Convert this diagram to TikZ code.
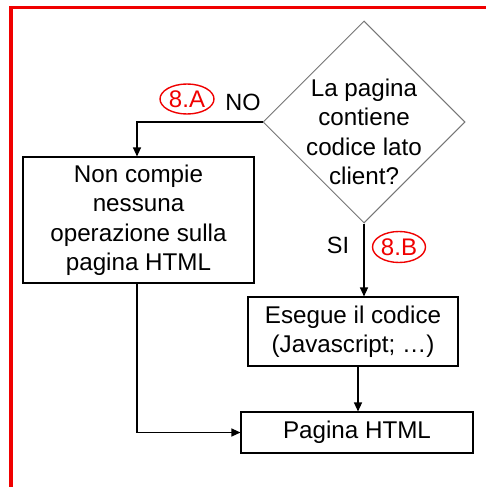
\documentclass[tikz,border=0pt]{standalone}
\usepackage{fontspec}
\setmainfont{Liberation Sans}
\usetikzlibrary{shapes.geometric,arrows.meta}

\definecolor{framered}{RGB}{240,0,0}
\definecolor{diagray}{RGB}{118,118,118}

\tikzset{
  txt/.style={font=\fontsize{24.2}{29.5}\selectfont, align=center, inner sep=0pt},
  box/.style={txt, draw=black, line width=1.1pt, rectangle},
  conn/.style={draw=black, line width=1.2pt, -{Triangle[length=9pt,width=8pt]}},
  tag/.style={draw=framered, line width=1.4pt, ellipse, inner sep=0pt, text=framered,
    font=\fontsize{24}{26}\selectfont},
  answer/.style={font=\fontsize{23.5}{26}\selectfont, inner sep=0pt},
}

\begin{document}
\begin{tikzpicture}[x=1pt,y=-1pt]
  \useasboundingbox[fill=white] (0,0) rectangle (486,487);

  % frame
  \draw[framered, line width=3.6pt] (11.2,487) -- (11.2,7.6) -- (486,7.6);

  % decision
  \node[draw=diagray, line width=1pt, diamond, aspect=1, minimum width=202pt,
        minimum height=202pt, inner sep=0pt] (dec) at (364,122) {};
  \node[txt] (dectext) at (364,132) {La pagina\\contiene\\codice lato\\client?};

  % process boxes
  \node[box, minimum width=231pt, minimum height=126pt] (noop) at (138.5,220)
    {Non compie\\nessuna\\operazione sulla\\pagina HTML};
  \node[box, minimum width=210pt, minimum height=69pt] (exec) at (353,331.5)
    {Esegue il codice\\(Javascript; \dots)};
  \node[box, minimum width=232pt, minimum height=41pt] (html) at (357,432.5)
    {Pagina HTML};

  % branch labels
  \node[answer] (no) at (243,102) {NO};
  \node[tag, minimum width=54pt, minimum height=30pt] (tagA) at (187,99) {8.A};
  \node[answer] (si) at (338,245) {SI};
  \node[tag, minimum width=53pt, minimum height=31pt] (tagB) at (399,247) {8.B};

  % connectors
  \draw[conn] (dec.west) -| ([xshift=-1.5pt]noop.north);
  \draw[conn] ([xshift=-1.5pt]noop.south) |- (html.west);
  \draw[conn] (dec.south) -- (dec.south |- exec.north);
  \draw[conn] ([xshift=5pt]exec.south) -- ([xshift=5pt]exec.south |- html.north);
\end{tikzpicture}
\end{document}
